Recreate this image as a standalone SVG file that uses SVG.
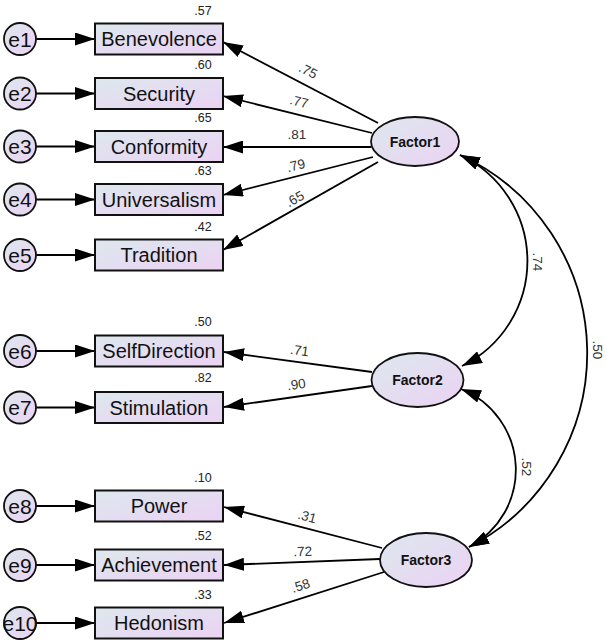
<svg xmlns="http://www.w3.org/2000/svg" width="607" height="643" viewBox="0 0 607 643">
<defs>
<linearGradient id="g" x1="0" y1="0" x2="1" y2="1">
<stop offset="0" stop-color="#dde8ee"/>
<stop offset="1" stop-color="#ebd2f3"/>
</linearGradient>
<marker id="ah" markerUnits="userSpaceOnUse" markerWidth="20" markerHeight="13" refX="20" refY="6.5" orient="auto-start-reverse">
<path d="M0,0 L20,6.5 L0,13 z" fill="#000"/>
</marker>
<style>
.box{fill:url(#g);stroke:#111;stroke-width:2}
.err{fill:url(#g);stroke:#111;stroke-width:1.8}
.lat{fill:url(#g);stroke:#111;stroke-width:1.8}
.lbl{font-family:"Liberation Sans",Arial,sans-serif;font-size:20px;fill:#111;text-anchor:middle}
.el{font-family:"Liberation Sans",Arial,sans-serif;font-size:21px;fill:#111;text-anchor:middle}
.fl{font-family:"Liberation Sans",Arial,sans-serif;font-size:14px;font-weight:bold;fill:#111;text-anchor:middle}
.num{font-family:"Liberation Sans",Arial,sans-serif;font-size:12.5px;fill:#222;text-anchor:middle}
.ld{font-family:"Liberation Sans",Arial,sans-serif;font-size:13.5px;fill:#333;text-anchor:middle}
.c{fill:none;stroke:#000;stroke-width:1.8;marker-end:url(#ah)}
.cv{fill:none;stroke:#000;stroke-width:1.8;marker-start:url(#ah);marker-end:url(#ah)}
</style>
</defs>
<g id="connectors">
<line class="c" x1="36" y1="39" x2="95" y2="39"/>
<line class="c" x1="36" y1="93.5" x2="95" y2="93.5"/>
<line class="c" x1="36" y1="146.5" x2="95" y2="146.5"/>
<line class="c" x1="36" y1="199.5" x2="95" y2="199.5"/>
<line class="c" x1="36" y1="255" x2="95" y2="255"/>
<line class="c" x1="36" y1="351" x2="95" y2="351"/>
<line class="c" x1="36" y1="407.5" x2="95" y2="407.5"/>
<line class="c" x1="36" y1="506" x2="95" y2="506"/>
<line class="c" x1="36" y1="565" x2="95" y2="565"/>
<line class="c" x1="36" y1="623" x2="95" y2="623"/>
<line class="c" x1="378" y1="123" x2="223" y2="42"/>
<line class="c" x1="372" y1="133" x2="223" y2="96"/>
<line class="c" x1="371" y1="147" x2="223" y2="147"/>
<line class="c" x1="373" y1="157" x2="223" y2="195"/>
<line class="c" x1="378" y1="162" x2="223" y2="250"/>
<line class="c" x1="372" y1="372" x2="224" y2="352"/>
<line class="c" x1="372" y1="386" x2="224" y2="407"/>
<line class="c" x1="382" y1="548" x2="224" y2="507"/>
<line class="c" x1="380" y1="559" x2="224" y2="565"/>
<line class="c" x1="384" y1="572" x2="224" y2="623"/>
<path class="cv" d="M460,155 A117,117 0 0,1 462,366"/>
<path class="cv" d="M460,155 A218,218 0 0,1 469,547"/>
<path class="cv" d="M461,389 A87,87 0 0,1 469,547"/>
<text class="ld" transform="translate(306,75) rotate(27)">.75</text>
<text class="ld" transform="translate(298,106) rotate(14)">.77</text>
<text class="ld" transform="translate(297,139)">.81</text>
<text class="ld" transform="translate(297,170) rotate(-14)">.79</text>
<text class="ld" transform="translate(297,203) rotate(-29)">.65</text>
<text class="ld" transform="translate(299,355) rotate(8)">.71</text>
<text class="ld" transform="translate(297,389) rotate(-8)">.90</text>
<text class="ld" transform="translate(306,521) rotate(15)">.31</text>
<text class="ld" transform="translate(303,556) rotate(-2)">.72</text>
<text class="ld" transform="translate(302,590) rotate(-18)">.58</text>
<text class="ld" transform="translate(533,262) rotate(90)">.74</text>
<text class="ld" transform="translate(593,350) rotate(90)">.50</text>
<text class="ld" transform="translate(522,467) rotate(90)">.52</text>
</g>
<g id="e1"><circle class="err" cx="20" cy="39" r="16"/><text class="el" x="20" y="46.5">e1</text></g>
<g id="e2"><circle class="err" cx="20" cy="93.5" r="16"/><text class="el" x="20" y="101">e2</text></g>
<g id="e3"><circle class="err" cx="20" cy="146.5" r="16"/><text class="el" x="20" y="154">e3</text></g>
<g id="e4"><circle class="err" cx="20" cy="199.5" r="16"/><text class="el" x="20" y="207">e4</text></g>
<g id="e5"><circle class="err" cx="20" cy="255" r="16"/><text class="el" x="20" y="262.5">e5</text></g>
<g id="e6"><circle class="err" cx="20" cy="351" r="16"/><text class="el" x="20" y="358.5">e6</text></g>
<g id="e7"><circle class="err" cx="20" cy="407.5" r="16"/><text class="el" x="20" y="415">e7</text></g>
<g id="e8"><circle class="err" cx="20" cy="506" r="16"/><text class="el" x="20" y="513.5">e8</text></g>
<g id="e9"><circle class="err" cx="20" cy="565" r="16"/><text class="el" x="20" y="572.5">e9</text></g>
<g id="e10"><circle class="err" cx="20" cy="623" r="16"/><text class="el" x="20" y="630.5">e10</text></g>
<g id="Benevolence"><rect class="box" x="95" y="23.5" width="128" height="31"/><text class="lbl" x="159" y="46">Benevolence</text><text class="num" x="203" y="15">.57</text></g>
<g id="Security"><rect class="box" x="95" y="78" width="128" height="31"/><text class="lbl" x="159" y="100.5">Security</text><text class="num" x="203" y="69">.60</text></g>
<g id="Conformity"><rect class="box" x="95" y="131" width="128" height="31"/><text class="lbl" x="159" y="153.5">Conformity</text><text class="num" x="203" y="122">.65</text></g>
<g id="Universalism"><rect class="box" x="95" y="184" width="128" height="31"/><text class="lbl" x="159" y="206.5">Universalism</text><text class="num" x="203" y="175">.63</text></g>
<g id="Tradition"><rect class="box" x="95" y="239.5" width="128" height="31"/><text class="lbl" x="159" y="262">Tradition</text><text class="num" x="203" y="231">.42</text></g>
<g id="SelfDirection"><rect class="box" x="95" y="335.5" width="128" height="31"/><text class="lbl" x="159" y="358">SelfDirection</text><text class="num" x="203" y="326">.50</text></g>
<g id="Stimulation"><rect class="box" x="95" y="392" width="128" height="31"/><text class="lbl" x="159" y="414.5">Stimulation</text><text class="num" x="203" y="382">.82</text></g>
<g id="Power"><rect class="box" x="95" y="490.5" width="128" height="31"/><text class="lbl" x="159" y="513">Power</text><text class="num" x="203" y="482">.10</text></g>
<g id="Achievement"><rect class="box" x="95" y="549.5" width="128" height="31"/><text class="lbl" x="159" y="572">Achievement</text><text class="num" x="203" y="540">.52</text></g>
<g id="Hedonism"><rect class="box" x="95" y="607.5" width="128" height="31"/><text class="lbl" x="159" y="630">Hedonism</text><text class="num" x="203" y="599">.33</text></g>
<g id="Factor1"><ellipse class="lat" cx="415" cy="141.5" rx="44" ry="24.5"/><text class="fl" x="415" y="146.5">Factor1</text></g>
<g id="Factor2"><ellipse class="lat" cx="417.5" cy="380" rx="46" ry="27"/><text class="fl" x="417.5" y="385">Factor2</text></g>
<g id="Factor3"><ellipse class="lat" cx="426" cy="560" rx="46" ry="27"/><text class="fl" x="426" y="565">Factor3</text></g>
</svg>
